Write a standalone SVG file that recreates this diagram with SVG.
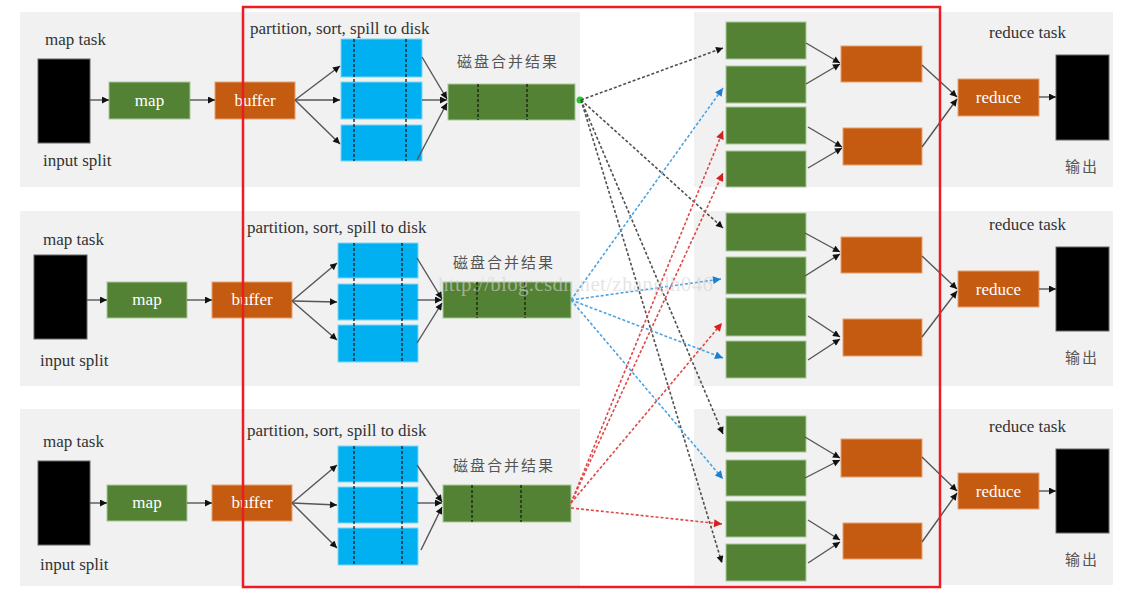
<svg xmlns="http://www.w3.org/2000/svg" width="1134" height="595" viewBox="0 0 1134 595">
<style>
.panel{fill:#f1f1f1}
.g{fill:#548235;stroke:#a9c99a;stroke-width:1}
.o{fill:#c55a11;stroke:#e8a070;stroke-width:1}
.b{fill:#00b0f0;stroke:#7fd6f7;stroke-width:1}
.k{fill:#000;stroke:#666;stroke-width:1}
.div{stroke:#1a1a1a;stroke-width:1.3;stroke-dasharray:3 2;fill:none}
.lbl{font-family:"Liberation Serif","Times New Roman",serif;font-size:17px;fill:#333}
.in{font-family:"Liberation Serif","Times New Roman",serif;font-size:17px;fill:#fff;text-anchor:middle}
.cjk{font-family:"Noto Sans CJK SC",sans-serif;font-size:15px;fill:#555;letter-spacing:2px}
.s{stroke:#555;stroke-width:1.4;fill:none;marker-end:url(#ak)}
.dk{stroke:#505050;stroke-width:1.6;stroke-dasharray:3 2;fill:none;marker-end:url(#ak)}
.db{stroke:#4ba3e3;stroke-width:1.6;stroke-dasharray:3 2;fill:none;marker-end:url(#abl)}
.dr{stroke:#e04848;stroke-width:1.6;stroke-dasharray:3 2;fill:none;marker-end:url(#ar)}
.wm{font-family:"Liberation Serif","Times New Roman",serif;font-size:21px;fill:#d4d4d4;fill-opacity:0.6;letter-spacing:0.3px}
</style>
<defs>
<marker id="ak" viewBox="0 0 10 10" refX="10" refY="5" markerWidth="8" markerHeight="7" markerUnits="userSpaceOnUse" orient="auto"><path d="M0,0 L10,5 L0,10 z" fill="#111"/></marker>
<marker id="abl" viewBox="0 0 10 10" refX="10" refY="5" markerWidth="9" markerHeight="8" markerUnits="userSpaceOnUse" orient="auto"><path d="M0,0 L10,5 L0,10 z" fill="#1a7fd0"/></marker>
<marker id="ar" viewBox="0 0 10 10" refX="10" refY="5" markerWidth="9" markerHeight="8" markerUnits="userSpaceOnUse" orient="auto"><path d="M0,0 L10,5 L0,10 z" fill="#d62020"/></marker>
</defs>
<rect width="1134" height="595" fill="#fff"/>
<g id="panels">
<rect class="panel" x="20" y="12" width="560" height="175"/>
<rect class="panel" x="694" y="12" width="419" height="175"/>
<rect class="panel" x="20" y="211" width="560" height="175"/>
<rect class="panel" x="694" y="211" width="419" height="175"/>
<rect class="panel" x="20" y="409" width="560" height="177"/>
<rect class="panel" x="694" y="409" width="419" height="176"/>
</g>
<!-- Row 1 -->
<g id="map1">
<text class="lbl" x="45" y="45">map task</text>
<rect class="k" x="38" y="59" width="52" height="84"/>
<text class="lbl" x="43" y="166">input split</text>
</g>
<g id="mapfn1"><rect class="g" x="109" y="82" width="81" height="37"/><text class="in" x="149.5" y="106">map</text></g>
<g id="buffer1"><rect class="o" x="215" y="82" width="80" height="37"/><text class="in" x="255" y="106">buffer</text></g>
<g id="spill1">
<text class="lbl" x="250" y="34">partition, sort, spill to disk</text>
<rect class="b" x="341" y="39" width="81" height="38"/>
<rect class="b" x="341" y="82" width="81" height="37"/>
<rect class="b" x="341" y="125" width="81" height="36"/>
<path class="div" d="M354,39V161M406,39V161"/>
</g>
<g id="merge1">
<text class="cjk" x="457" y="67">磁盘合并结果</text>
<rect class="g" x="448" y="84" width="127" height="36"/>
<path class="div" d="M478,84V120M527,84V120"/>
<circle cx="580" cy="100" r="3.5" fill="#22cc22"/>
</g>
<g id="shuffle1">
<rect class="g" x="726" y="22" width="80" height="37"/>
<rect class="g" x="726" y="66" width="80" height="37"/>
<rect class="g" x="726" y="107" width="80" height="37"/>
<rect class="g" x="726" y="151" width="80" height="36"/>
<rect class="o" x="841" y="46" width="81" height="36"/>
<rect class="o" x="843" y="128" width="79" height="37"/>
</g>
<g id="reduce1">
<text class="lbl" x="989" y="38">reduce task</text>
<rect class="o" x="958" y="79" width="81" height="37"/><text class="in" x="998.5" y="103">reduce</text>
<rect class="k" x="1056" y="55" width="53" height="85"/>
<text class="cjk" x="1065" y="172">输出</text>
</g>
<!-- Row 2 -->
<g id="map2">
<text class="lbl" x="43" y="245">map task</text>
<rect class="k" x="34" y="255" width="53" height="84"/>
<text class="lbl" x="40" y="366">input split</text>
</g>
<g id="mapfn2"><rect class="g" x="107" y="282" width="80" height="36"/><text class="in" x="147" y="305">map</text></g>
<g id="buffer2"><rect class="o" x="212" y="282" width="80" height="36"/><text class="in" x="252" y="305">buffer</text></g>
<g id="spill2">
<text class="lbl" x="247" y="233">partition, sort, spill to disk</text>
<rect class="b" x="338" y="243" width="80" height="35"/>
<rect class="b" x="338" y="284" width="80" height="36"/>
<rect class="b" x="338" y="325" width="80" height="37"/>
<path class="div" d="M354,243V362M402,243V362"/>
</g>
<g id="merge2">
<text class="cjk" x="453" y="268">磁盘合并结果</text>
<rect class="g" x="443" y="282" width="128" height="36"/>
<path class="div" d="M477,282V318M525,282V318"/>
</g>
<g id="shuffle2">
<rect class="g" x="726" y="213" width="80" height="38"/>
<rect class="g" x="726" y="257" width="80" height="37"/>
<rect class="g" x="726" y="298" width="80" height="38"/>
<rect class="g" x="726" y="341" width="80" height="37"/>
<rect class="o" x="841" y="237" width="81" height="36"/>
<rect class="o" x="843" y="319" width="79" height="37"/>
</g>
<g id="reduce2">
<text class="lbl" x="989" y="230">reduce task</text>
<rect class="o" x="958" y="271" width="81" height="36"/><text class="in" x="998.5" y="295">reduce</text>
<rect class="k" x="1056" y="247" width="53" height="84"/>
<text class="cjk" x="1065" y="363">输出</text>
</g>
<!-- Row 3 -->
<g id="map3">
<text class="lbl" x="43" y="447">map task</text>
<rect class="k" x="38" y="461" width="52" height="84"/>
<text class="lbl" x="40" y="570">input split</text>
</g>
<g id="mapfn3"><rect class="g" x="107" y="485" width="80" height="36"/><text class="in" x="147" y="508">map</text></g>
<g id="buffer3"><rect class="o" x="212" y="485" width="80" height="36"/><text class="in" x="252" y="508">buffer</text></g>
<g id="spill3">
<text class="lbl" x="247" y="436">partition, sort, spill to disk</text>
<rect class="b" x="338" y="446" width="80" height="36"/>
<rect class="b" x="338" y="487" width="80" height="36"/>
<rect class="b" x="338" y="528" width="80" height="37"/>
<path class="div" d="M354,446V565M402,446V565"/>
</g>
<g id="merge3">
<text class="cjk" x="453" y="471">磁盘合并结果</text>
<rect class="g" x="443" y="485" width="128" height="37"/>
<path class="div" d="M472,485V522M521,485V522"/>
</g>
<g id="shuffle3">
<rect class="g" x="726" y="416" width="80" height="36"/>
<rect class="g" x="726" y="460" width="80" height="36"/>
<rect class="g" x="726" y="501" width="80" height="36"/>
<rect class="g" x="726" y="544" width="80" height="37"/>
<rect class="o" x="841" y="439" width="81" height="38"/>
<rect class="o" x="843" y="523" width="79" height="36"/>
</g>
<g id="reduce3">
<text class="lbl" x="989" y="432">reduce task</text>
<rect class="o" x="958" y="473" width="81" height="36"/><text class="in" x="998.5" y="497">reduce</text>
<rect class="k" x="1056" y="449" width="53" height="84"/>
<text class="cjk" x="1065" y="565">输出</text>
</g>
<g id="connectors">
<!-- row 1 solid -->
<line class="s" x1="90" y1="100" x2="109" y2="100"/>
<line class="s" x1="190" y1="100" x2="215" y2="100"/>
<line class="s" x1="295" y1="100" x2="340" y2="66"/>
<line class="s" x1="295" y1="100" x2="340" y2="100"/>
<line class="s" x1="295" y1="100" x2="340" y2="144"/>
<line class="s" x1="422" y1="57" x2="447" y2="99"/>
<line class="s" x1="422" y1="100" x2="447" y2="100"/>
<line class="s" x1="417" y1="160" x2="447" y2="103"/>
<line class="s" x1="806" y1="43" x2="840" y2="63"/>
<line class="s" x1="806" y1="84" x2="840" y2="64"/>
<line class="s" x1="808" y1="127" x2="842" y2="147"/>
<line class="s" x1="808" y1="168" x2="842" y2="148"/>
<line class="s" x1="922" y1="65" x2="957" y2="97"/>
<line class="s" x1="922" y1="147" x2="957" y2="99"/>
<line class="s" x1="1039" y1="97" x2="1056" y2="97"/>
<!-- row 2 solid -->
<line class="s" x1="87" y1="300" x2="107" y2="300"/>
<line class="s" x1="187" y1="300" x2="212" y2="300"/>
<line class="s" x1="292" y1="301" x2="337" y2="263"/>
<line class="s" x1="292" y1="301" x2="337" y2="302"/>
<line class="s" x1="292" y1="301" x2="337" y2="340"/>
<line class="s" x1="417" y1="258" x2="442" y2="299"/>
<line class="s" x1="417" y1="300" x2="442" y2="300"/>
<line class="s" x1="417" y1="343" x2="442" y2="303"/>
<line class="s" x1="805" y1="233" x2="840" y2="252"/>
<line class="s" x1="805" y1="276" x2="840" y2="254"/>
<line class="s" x1="808" y1="316" x2="840" y2="337"/>
<line class="s" x1="808" y1="360" x2="840" y2="339"/>
<line class="s" x1="922" y1="256" x2="957" y2="289"/>
<line class="s" x1="922" y1="337" x2="957" y2="291"/>
<line class="s" x1="1039" y1="289" x2="1056" y2="289"/>
<!-- row 3 solid -->
<line class="s" x1="90" y1="503" x2="107" y2="503"/>
<line class="s" x1="187" y1="503" x2="212" y2="503"/>
<line class="s" x1="292" y1="503" x2="337" y2="465"/>
<line class="s" x1="292" y1="503" x2="337" y2="505"/>
<line class="s" x1="292" y1="503" x2="337" y2="548"/>
<line class="s" x1="417" y1="465" x2="442" y2="502"/>
<line class="s" x1="417" y1="503" x2="442" y2="503"/>
<line class="s" x1="421" y1="550" x2="442" y2="507"/>
<line class="s" x1="805" y1="437" x2="840" y2="458"/>
<line class="s" x1="805" y1="478" x2="840" y2="460"/>
<line class="s" x1="808" y1="520" x2="840" y2="540"/>
<line class="s" x1="808" y1="563" x2="840" y2="542"/>
<line class="s" x1="922" y1="457" x2="957" y2="491"/>
<line class="s" x1="922" y1="542" x2="957" y2="493"/>
<line class="s" x1="1039" y1="491" x2="1056" y2="491"/>
<!-- shuffle dashed -->
<line class="dk" x1="581" y1="100" x2="723" y2="48"/>
<line class="dk" x1="581" y1="100" x2="723" y2="228"/>
<line class="dk" x1="581" y1="100" x2="723" y2="434"/>
<line class="dk" x1="581" y1="100" x2="722" y2="563"/>
<line class="db" x1="571" y1="300" x2="723" y2="88"/>
<line class="db" x1="571" y1="300" x2="721" y2="279"/>
<line class="db" x1="571" y1="300" x2="723" y2="358"/>
<line class="db" x1="571" y1="300" x2="723" y2="479"/>
<line class="dr" x1="571" y1="503" x2="723" y2="131"/>
<line class="dr" x1="571" y1="503" x2="723" y2="173"/>
<line class="dr" x1="571" y1="503" x2="722" y2="323"/>
<line class="dr" x1="571" y1="508" x2="722" y2="524"/>
</g>
<text class="wm" x="438" y="291">http://blog.csdn.net/zhanglh046</text>
<rect x="243" y="7" width="697" height="580" fill="none" stroke="#ed1c24" stroke-width="2.5"/>
</svg>
